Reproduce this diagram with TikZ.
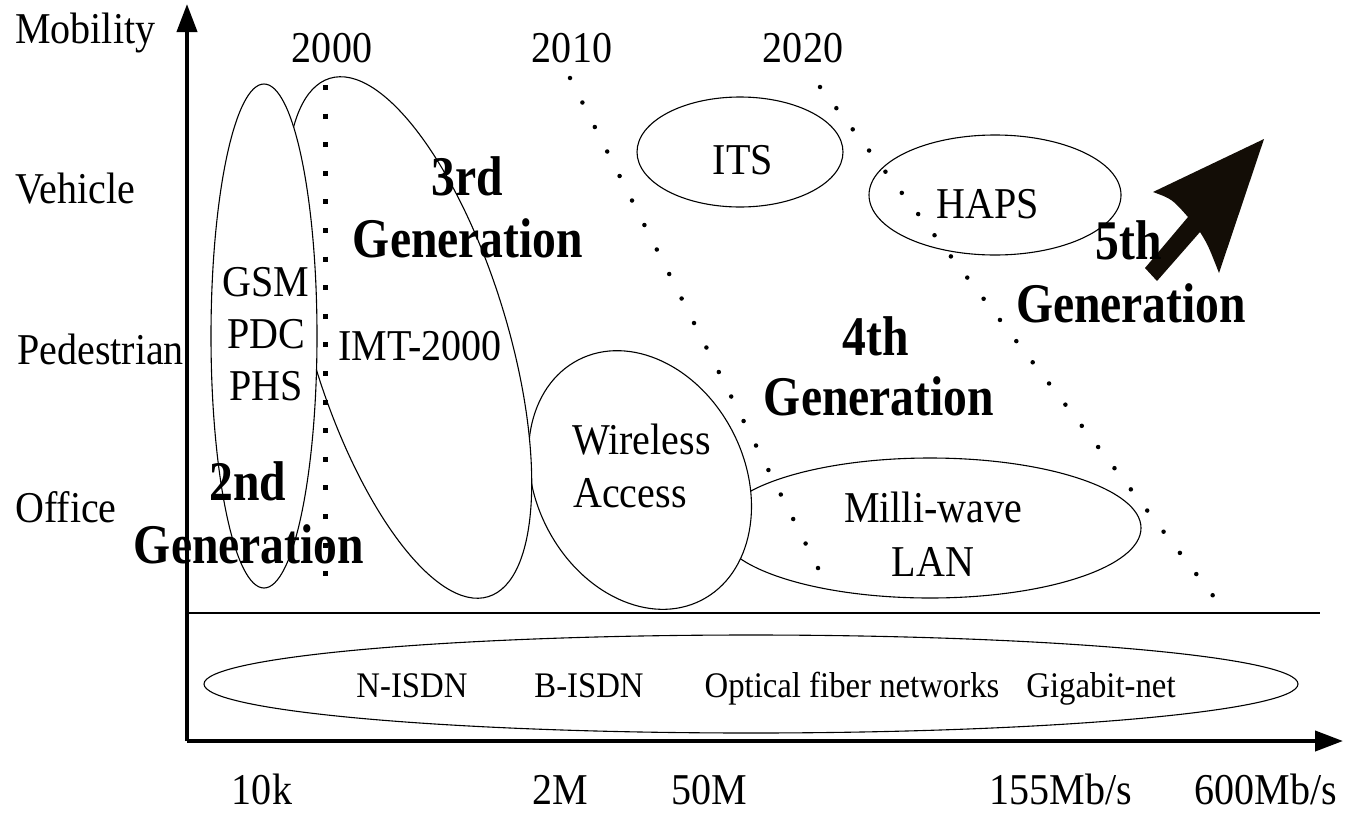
\documentclass[tikz,border=0pt]{standalone}
\usepackage{fontspec}
\setmainfont{Liberation Serif}[FakeStretch=0.91]
\newfontfamily\bldfont{Liberation Serif}[FakeStretch=0.85]
\usetikzlibrary{shapes.geometric,arrows.meta}
\tikzset{
  lab/.style={inner sep=0pt, font=\fontsize{44}{50}\selectfont},
  small/.style={inner sep=0pt, font=\fontsize{36}{42}\selectfont},
  gen/.style={inner sep=0pt, font=\bldfont\bfseries\fontsize{56}{60}\selectfont},
  oval/.style={ellipse, draw, line width=1.1pt, fill=white, inner sep=0pt},
  axis/.style={line width=4pt, -{Triangle[length=28pt,width=20pt]}},
  sqdots/.style={line width=5pt, dash pattern=on 5pt off 23.6pt},
  rddots/.style={line width=4.5pt, line cap=round, dash pattern=on 0pt off #1},
}
\begin{document}
\begin{tikzpicture}[x=1pt,y=-1pt]
\useasboundingbox (0,0) rectangle (1356,814);
% axes
\coordinate (O) at (187,741);
\coordinate (ytip) at (187,4);
\coordinate (xtip) at (1343,741);
\coordinate (hl) at (187,613);
\coordinate (hr) at (1320,613);
\draw[axis] (O) -- (ytip);
\draw[axis] (O) -- (xtip);
\draw[line width=2pt] (hl) -- (hr);
% ovals
\node[oval, minimum width=422pt, minimum height=140pt] (mw) at (930,528) {};
\node[oval, rotate=27, minimum width=209pt, minimum height=270pt] (wa) at (640,480) {};
\node[oval, rotate=17, minimum width=196pt, minimum height=542pt] (imt) at (409,337.5) {};
\node[oval, minimum width=106pt, minimum height=504pt] (gsm) at (264,336) {};
\node[oval, minimum width=206pt, minimum height=110pt] (its) at (740,152) {};
\node[oval, minimum width=252pt, minimum height=120pt] (haps) at (995,195) {};
\node[oval, minimum width=1094pt, minimum height=98pt] (net) at (751,684) {};
% dotted lines
\coordinate (v1) at (325,85);
\coordinate (v2) at (325,582);
\draw[sqdots] (v1) -- (v2);
\coordinate (a1) at (570,78);
\coordinate (a2) at (819,570);
\draw[rddots=27.46pt] (a1) -- (a2);
\coordinate (b1) at (820,87);
\coordinate (b2) at (1214,597);
\draw[rddots=26.76pt] (b1) -- (b2);
% big arrow
\coordinate (t0) at (1264,139);
\coordinate (t1) at (1153,192);
\coordinate (t2) at (1188,217);
\coordinate (t3) at (1145,268);
\coordinate (t4) at (1157,281);
\coordinate (t5) at (1200,232);
\coordinate (t6) at (1219,273);
\fill[black!90!brown] (t0) -- (t1) .. controls (1172,199) .. (t2) -- (t3) -- (t4) -- (t5) .. controls (1208,245) .. (t6) -- cycle;
% axis labels
\node[lab, anchor=base west] (mob) at (15,43) {Mobility};
\node[lab, anchor=base west] (veh) at (15,203) {Vehicle};
\node[lab, anchor=base west] (ped) at (17,364) {Pedestrian};
\node[lab, anchor=base west] (off) at (15,522) {Office};
\node[lab, anchor=base] (y2000) at (332,62) {2000};
\node[lab, anchor=base] (y2010) at (572,62) {2010};
\node[lab, anchor=base] (y2020) at (803,62) {2020};
\node[lab, anchor=base] (r1) at (262,804) {10k};
\node[lab, anchor=base] (r2) at (560,804) {2M};
\node[lab, anchor=base] (r3) at (709,804) {50M};
\node[lab, anchor=base] (r4) at (1061,804) {155Mb/s};
\node[lab, anchor=base] (r5) at (1266,804) {600Mb/s};
% oval texts
\node[lab, anchor=base] (gsmt) at (266,296) {GSM};
\node[lab, anchor=base] (pdct) at (266,348) {PDC};
\node[lab, anchor=base] (phst) at (266,400) {PHS};
\node[lab, anchor=base] (imtt) at (420,360) {IMT-2000};
\node[lab, anchor=base] (itst) at (743,174) {ITS};
\node[lab, anchor=base] (hapst) at (988,218) {HAPS};
\node[lab, anchor=base west] (wat1) at (572,454) {Wireless};
\node[lab, anchor=base west] (wat2) at (573,507) {Access};
\node[lab, anchor=base] (mwt1) at (933,522) {Milli-wave};
\node[lab, anchor=base] (mwt2) at (933,576) {LAN};
% generations
\node[gen, anchor=base] (g3a) at (467,195) {3rd};
\node[gen, anchor=base] (g3b) at (468,257) {Generation};
\node[gen, anchor=base] (g2a) at (248,500) {2nd};
\node[gen, anchor=base] (g2b) at (249,563) {Generation};
\node[gen, anchor=base] (g4a) at (876,355) {4th};
\node[gen, anchor=base] (g4b) at (879,415) {Generation};
\node[gen, anchor=base] (g5a) at (1129,259) {5th};
\node[gen, anchor=base] (g5b) at (1131,322) {Generation};
% network texts
\node[small, anchor=base] (n1) at (412,697) {N-ISDN};
\node[small, anchor=base] (n2) at (589,697) {B-ISDN};
\node[small, anchor=base] (n3) at (852,697) {Optical fiber networks};
\node[small, anchor=base] (n4) at (1101,697) {Gigabit-net};
\end{tikzpicture}
\end{document}
